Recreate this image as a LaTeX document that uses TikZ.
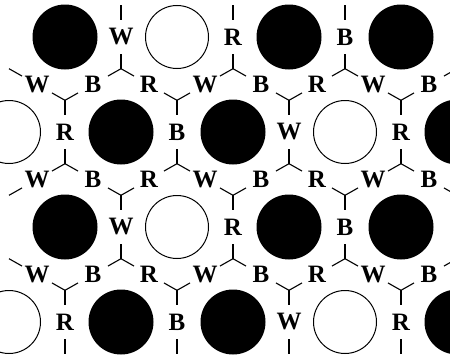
\documentclass[tikz,border=0pt]{standalone}
\usepackage{fontspec}
\setmainfont{Liberation Serif}
\usetikzlibrary{calc}

\begin{document}
\begin{tikzpicture}[x=1pt, y=-1pt,
    dark/.style={circle, fill=black, minimum size=65pt, inner sep=0pt},
    light/.style={circle, draw=black, line width=1pt, minimum size=63pt, inner sep=0pt},
    letter/.style={font=\fontsize{25}{25}\selectfont\bfseries, inner sep=0pt},
    stub/.style={line width=1.1pt}]

\useasboundingbox (0,0) rectangle (450,364);
\clip (0,0) rectangle (450,364);

% Circles
\foreach \y in {37,227} {
  \foreach \x/\kind in {65/dark, 177/light, 289/dark, 401/dark}
    \node[\kind] (c\x-\y) at (\x,\y) {};
}
\foreach \y in {132,322} {
  \foreach \x/\kind in {9/light, 121/dark, 233/dark, 345/light, 457/dark}
    \node[\kind] (c\x-\y) at (\x,\y) {};
}

% Letters between horizontal neighbours, with their vertical stubs
\foreach \x/\y/\t [count=\n] in {121/37/W, 233/37/R, 345/37/B,
    65/132/R, 177/132/B, 289/132/W, 401/132/R,
    121/227/W, 233/227/R, 345/227/B,
    65/322/R, 177/322/B, 289/322/W, 401/322/R} {
  \node[letter] (h\n) at (\x,\y) {\t};
  \coordinate (h\n-a) at (\x,\y-31.7);
  \coordinate (h\n-b) at (\x,\y+31.7);
  \draw[stub] (h\n-a) -- ($(h\n-a)!15pt!(h\n)$)
              (h\n-b) -- ($(h\n-b)!15pt!(h\n)$);
}

% Letters between slanted neighbours, with their slanted stubs
\foreach \y/\s [count=\j] in {84.5/1, 179.5/-1, 274.5/1} {
  \foreach \x/\t/\d in {37/W/28, 93/B/-28, 149/R/28, 205/W/-28,
      261/B/28, 317/R/-28, 373/W/28, 429/B/-28} {
    \node[letter] (s\j-\x) at (\x,\y) {\t};
    \coordinate (s\j-\x-a) at ($(s\j-\x)-(\s*\d,15.8)$);
    \coordinate (s\j-\x-b) at ($(s\j-\x)+(\s*\d,15.8)$);
    \draw[stub] (s\j-\x-a) -- ($(s\j-\x-a)!15pt!(s\j-\x)$)
                (s\j-\x-b) -- ($(s\j-\x-b)!15pt!(s\j-\x)$);
  }
}

\end{tikzpicture}
\end{document}
